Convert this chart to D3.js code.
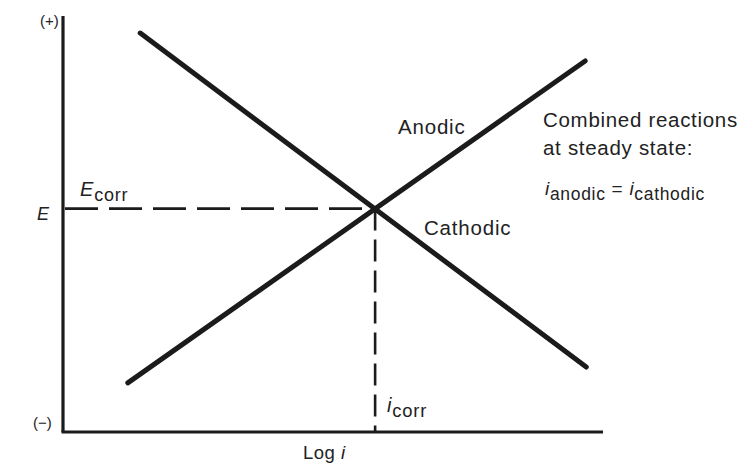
<!DOCTYPE html>
<html>
<head>
<meta charset="utf-8">
<script src="https://cdn.jsdelivr.net/npm/d3@7"></script>
<style>
  html, body { margin: 0; padding: 0; background: #fff; }
  svg { display: block; }
  text { font-family: "Liberation Sans", Arial, sans-serif; fill: #222; }
</style>
</head>
<body>
<svg id="chart" width="744" height="466"></svg>
<script>
// Evans diagram: potential E versus log of current density (arbitrary units 0-100)
const logI = [12.0, 96.7];                 // anodic branch, log i
const anodicE = [11.8, 89.2];              // anodic branch, E
const logICathodic = [14.3, 96.9];         // cathodic branch, log i
const cathodicE = [95.9, 15.6];            // cathodic branch, E
const corrPoint = [57.8, 53.7];            // [log i_corr, E_corr]
const axisDomainX = [0, 100];
const axisDomainY = [0, 100];

const svg = d3.select("#chart");
const x = d3.scaleLinear().domain(axisDomainX).range([63, 603]);
const y = d3.scaleLinear().domain(axisDomainY).range([432, 16]);

const ink = "#1b1b1b";

// axes
svg.append("line")
  .attr("x1", x(0)).attr("x2", x(0))
  .attr("y1", y(100)).attr("y2", y(0))
  .attr("stroke", ink).attr("stroke-width", 3.2);
svg.append("line")
  .attr("x1", x(0) - 1.5).attr("x2", x(100))
  .attr("y1", y(0)).attr("y2", y(0))
  .attr("stroke", ink).attr("stroke-width", 3.2);

// dashed guides to E_corr and i_corr
svg.append("line")
  .attr("x1", x(0)).attr("x2", x(corrPoint[0]))
  .attr("y1", y(corrPoint[1])).attr("y2", y(corrPoint[1]))
  .attr("stroke", ink).attr("stroke-width", 2.6)
  .attr("stroke-dasharray", "33 11").attr("stroke-dashoffset", -2);
svg.append("line")
  .attr("x1", x(corrPoint[0])).attr("x2", x(corrPoint[0]))
  .attr("y1", y(corrPoint[1])).attr("y2", y(0))
  .attr("stroke", ink).attr("stroke-width", 2.6)
  .attr("stroke-dasharray", "22 9");

// polarization branches
const line = d3.line().x(d => x(d[0])).y(d => y(d[1]));
const anodic = logI.map((v, i) => [v, anodicE[i]]);
const cathodic = logICathodic.map((v, i) => [v, cathodicE[i]]);
[anodic, cathodic].forEach(pts => {
  svg.append("path")
    .attr("d", line(pts))
    .attr("fill", "none")
    .attr("stroke", ink)
    .attr("stroke-width", 5)
    .attr("stroke-linecap", "round");
});

// labels
function label(tx, ty, parts, size, extra, subScale) {
  const t = svg.append("text").attr("x", tx).attr("y", ty)
    .attr("font-size", size);
  if (extra) extra(t);
  parts.forEach(p => {
    const s = t.append("tspan").text(p.t);
    if (p.italic) s.attr("font-style", "italic");
    if (p.sub) s.attr("font-size", size * (subScale || 0.82)).attr("dy", 5);
    if (p.up) s.attr("dy", -5);
  });
  return t;
}

label(40, 26, [{t: "(+)"}], 15, t => t.attr("font-family", "Liberation Serif, serif"));
label(33, 428, [{t: "(\u2212)"}], 15, t => t.attr("font-family", "Liberation Serif, serif"));
label(37, 220, [{t: "E", italic: true}], 18);
label(80, 196, [{t: "E", italic: true}, {t: "corr", sub: true}], 20,
      t => t.attr("letter-spacing", 0.8), 0.9);
label(398, 134, [{t: "Anodic"}], 20.5, t => t.attr("letter-spacing", 0.8));
label(424, 235, [{t: "Cathodic"}], 20.5, t => t.attr("letter-spacing", 0.8));
label(543, 127, [{t: "Combined reactions"}], 20.5, t => t.attr("letter-spacing", 0.7));
label(543, 155, [{t: "at steady state:"}], 20.5, t => t.attr("letter-spacing", 0.7));
label(545, 195, [{t: "i", italic: true}, {t: "anodic", sub: true}, {t: " = ", up: true},
                 {t: "i", italic: true}, {t: "cathodic", sub: true}], 19,
      t => t.attr("letter-spacing", 0.7), 0.92);
label(387, 412, [{t: "i", italic: true}, {t: "corr", sub: true}], 20,
      t => t.attr("letter-spacing", 0.8), 0.92);
label(303, 459, [{t: "Log "}, {t: "i", italic: true}], 18.5, t => t.attr("letter-spacing", 0.5));
</script>
</body>
</html>
